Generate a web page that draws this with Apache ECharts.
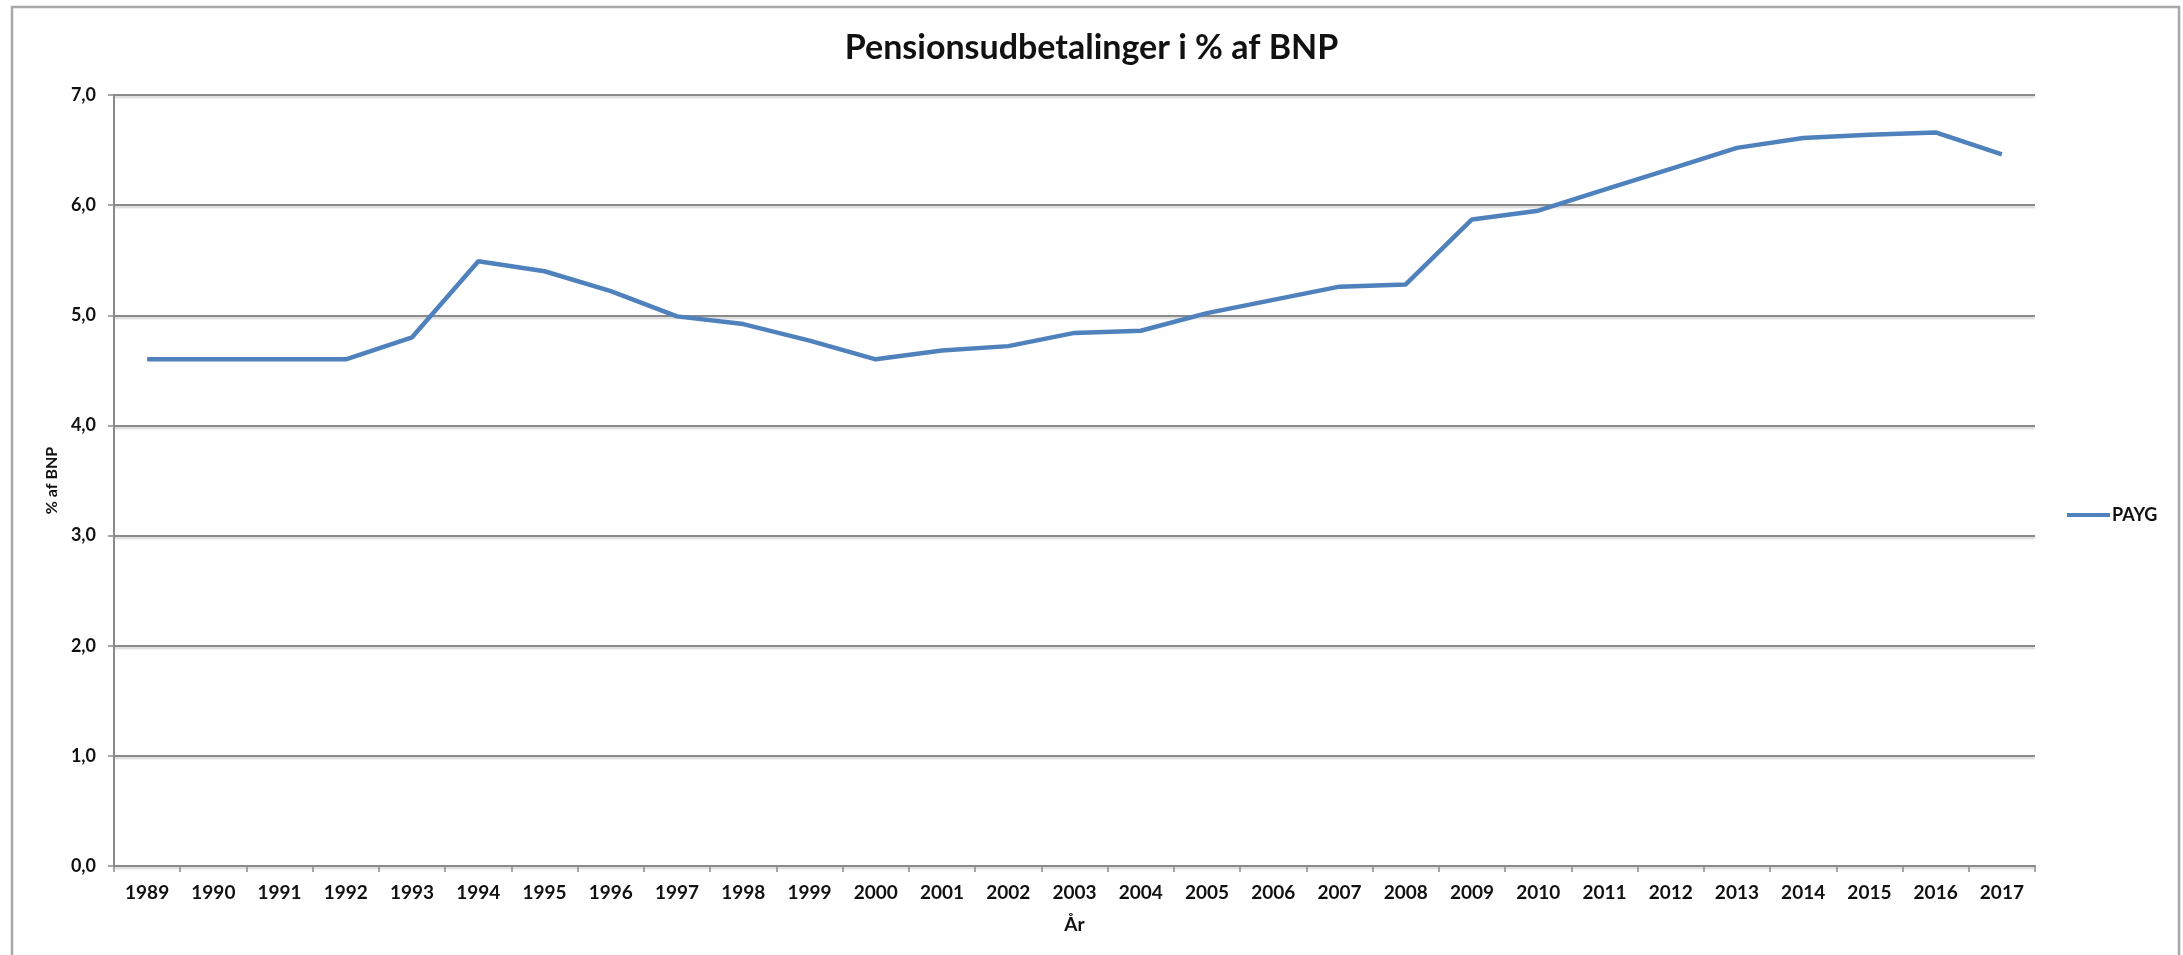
<!DOCTYPE html>
<html>
<head>
<meta charset="utf-8">
<script src="https://cdn.jsdelivr.net/npm/echarts@6/dist/echarts.min.js"></script>
<style>
html,body{margin:0;padding:0;background:#fff;}
#chart{width:2183px;height:955px;}
</style>
</head>
<body>
<div id="chart"></div>
<script>
const years = ['1989','1990','1991','1992','1993','1994','1995','1996','1997','1998','1999','2000','2001','2002','2003','2004','2005','2006','2007','2008','2009','2010','2011','2012','2013','2014','2015','2016','2017'];
const payg = [4.60,4.60,4.60,4.60,4.80,5.49,5.40,5.22,4.99,4.92,4.77,4.60,4.68,4.72,4.84,4.86,5.02,5.14,5.26,5.28,5.87,5.95,6.14,6.33,6.52,6.61,6.64,6.66,6.46];
const seriesName = 'PAYG';
const titleText = 'Pensionsudbetalinger i % af BNP';
const yName = '% af BNP';
const xName = 'År';

const FONT = 'Lato';
const chart = echarts.init(document.getElementById('chart'), null, {renderer: 'canvas'});
const gridColor = '#8a8a8a';
chart.setOption({
  animation: false,
  backgroundColor: '#ffffff',
  title: {
    text: titleText,
    left: 'center',
    top: 26,
    textStyle: {fontFamily: FONT, fontSize: 34, fontWeight: 'bold', color: '#111'}
  },
  graphic: [{
    type: 'rect',
    shape: {x: 12, y: 7, width: 2167, height: 960},
    style: {fill: 'none', stroke: '#a8a8a8', lineWidth: 2.5},
    silent: true
  }],
  legend: {
    orient: 'vertical',
    left: 2067,
    top: 506,
    padding: 0,
    icon: 'rect',
    itemWidth: 43,
    itemHeight: 4,
    itemGap: 4,
    textStyle: {fontFamily: FONT, fontSize: 18, fontWeight: 'bold', color: '#111', padding: [0,0,0,-3]},
    data: [seriesName]
  },
  grid: {left: 114, right: 148, top: 95, bottom: 89, containLabel: false},
  xAxis: {
    type: 'category',
    data: years,
    boundaryGap: true,
    name: xName,
    nameLocation: 'middle',
    nameGap: 49,
    nameTextStyle: {fontFamily: FONT, fontSize: 19, fontWeight: 'bold', color: '#111'},
    axisLine: {show: true, lineStyle: {color: gridColor, width: 2}},
    axisTick: {show: true, alignWithLabel: false, length: 6, lineStyle: {color: gridColor, width: 1.5}},
    axisLabel: {fontFamily: FONT, fontSize: 19, fontWeight: 'bold', color: '#111', margin: 17, interval: 0},
    splitLine: {show: false}
  },
  yAxis: {
    type: 'value',
    min: 0,
    max: 7,
    interval: 1,
    name: yName,
    nameLocation: 'middle',
    nameGap: 50,
    nameTextStyle: {fontFamily: FONT, fontSize: 16, fontWeight: 'bold', color: '#111'},
    axisLine: {show: true, lineStyle: {color: gridColor, width: 2}},
    axisTick: {show: true, length: 6, lineStyle: {color: gridColor, width: 1.5}},
    axisLabel: {
      fontFamily: FONT, fontSize: 18, fontWeight: 'bold', color: '#111', margin: 18,
      formatter: v => v.toFixed(1).replace('.', ',')
    },
    splitLine: {show: true, lineStyle: {color: gridColor, width: 2, shadowColor: 'rgba(0,0,0,0.18)', shadowOffsetY: 2, shadowBlur: 2}}
  },
  series: [{
    name: seriesName,
    type: 'line',
    data: payg,
    symbol: 'none',
    lineStyle: {color: '#4f81bd', width: 4.5},
    itemStyle: {color: '#4f81bd'},
    z: 5
  }]
});
</script>
</body>
</html>
